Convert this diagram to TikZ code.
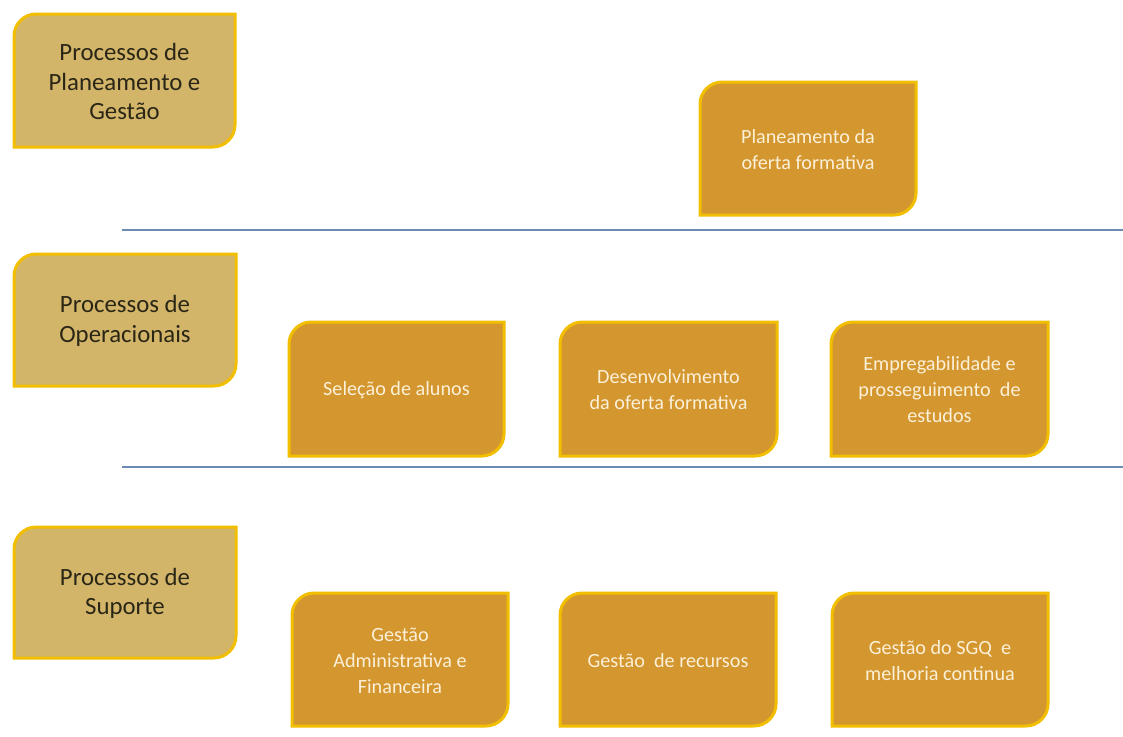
\documentclass[tikz,border=0pt]{standalone}
\usepackage{fontspec}
\setmainfont{Carlito}
\definecolor{bordery}{HTML}{F2BE00}
\definecolor{khaki}{HTML}{D3B56A}
\definecolor{ochre}{HTML}{D4962E}
\definecolor{sepline}{HTML}{6A8BB2}
\definecolor{darktxt}{HTML}{2A2616}
\definecolor{lighttxt}{HTML}{FBF0D8}
\tikzset{
  headbox/.style={fill=khaki,draw=bordery,line width=3pt},
  headbox text/.style={text=darktxt,font=\fontsize{24.8}{29.5}\selectfont,align=center,inner sep=0pt},
  taskbox/.style={fill=ochre,draw=bordery,line width=3pt},
  taskbox text/.style={text=lighttxt,font=\fontsize{20.2}{26}\selectfont,align=center,inner sep=0pt},
  separator/.style={draw=sepline,line width=2pt}
}
\newcommand\procbox[7]{%
  \path[#6] (#2,#5) -- (#2,{#3+22}) .. controls (#2,{#3+10}) and ({#2+10},#3) .. ({#2+22},#3)
    -- (#4,#3) -- (#4,{#5-22}) .. controls (#4,{#5-10}) and ({#4-10},#5) .. ({#4-22},#5) -- cycle;
  \node[#6 text] (#1) at ({(#2+#4)/2},{(#3+#5)/2+1}) {#7};
}
\begin{document}
\begin{tikzpicture}[x=1pt,y=-1pt]
\useasboundingbox[fill=white] (0,0) rectangle (1123,736);
% separators
\coordinate (s1a) at (122,230);
\coordinate (s1b) at (1123,230);
\coordinate (s2a) at (122,467);
\coordinate (s2b) at (1123,467);
\draw[separator] (s1a) -- (s1b);
\draw[separator] (s2a) -- (s2b);
% row headers
\procbox{hplan}{14}{14}{235}{147}{headbox}{Processos de\\Planeamento e\\Gestão}
\procbox{hoper}{14}{254}{236}{386}{headbox}{Processos de\\Operacionais}
\procbox{hsup}{14}{527}{236}{658}{headbox}{Processos de\\Suporte}
% tasks
\procbox{tplan}{700}{82}{916}{215}{taskbox}{Planeamento da\\oferta formativa}
\procbox{tsel}{289}{322}{504}{456}{taskbox}{Seleção de alunos}
\procbox{tdes}{560}{322}{777}{456}{taskbox}{Desenvolvimento\\da oferta formativa}
\procbox{temp}{831}{322}{1048}{456}{taskbox}{Empregabilidade e\\prosseguimento\ \ de\\estudos}
\procbox{tadm}{292}{593}{508}{726}{taskbox}{Gestão\\Administrativa e\\Financeira}
\procbox{trec}{560}{593}{776}{726}{taskbox}{Gestão\ \ de recursos}
\procbox{tsgq}{832}{593}{1048}{726}{taskbox}{Gestão do SGQ\ \ e\\melhoria continua}
\end{tikzpicture}
\end{document}
